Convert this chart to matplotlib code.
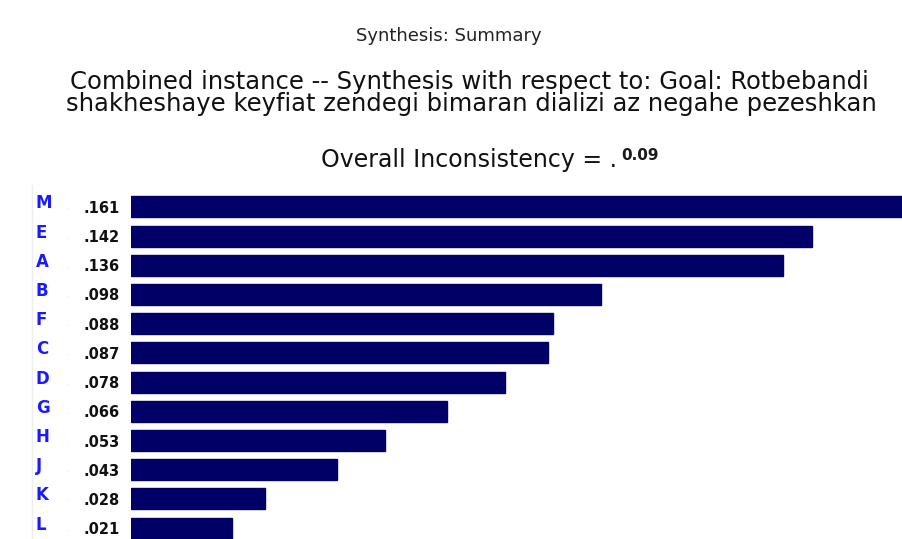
import matplotlib
matplotlib.use("Agg")
import matplotlib.pyplot as plt
from matplotlib.transforms import blended_transform_factory

labels = ["M", "E", "A", "B", "F", "C", "D", "G", "H", "J", "K", "L"]
values = [0.161, 0.142, 0.136, 0.098, 0.088, 0.087, 0.078, 0.066, 0.053, 0.043, 0.028, 0.021]
value_text = [".161", ".142", ".136", ".098", ".088", ".087", ".078", ".066", ".053", ".043", ".028", ".021"]
inconsistency = "0.09"

W, H = 903, 539
fig = plt.figure(figsize=(W / 100, H / 100), dpi=100)
fig.patch.set_facecolor("white")

# axes spans bar area: x 131..903 px, y 192..539 px
ax = fig.add_axes([131 / W, 0, 1 - 131 / W, (H - 192) / H])
ypos = list(range(len(labels)))
ax.barh(ypos, values, height=0.72, color="#000066", edgecolor="#000066")
ax.set_xlim(0, max(values))
ax.set_ylim(11.37, -0.51)
ax.axis("off")

tr = blended_transform_factory(fig.transFigure, ax.transData)
for y, lab, vt in zip(ypos, labels, value_text):
    ax.text(36 / W, y - 0.12, lab, transform=tr, color="#1a1aff", fontsize=12,
            fontweight="bold", ha="left", va="center", clip_on=False)
    ax.text(84 / W, y + 0.05, vt, transform=tr, color="#111111", fontsize=10.5,
            fontweight="bold", ha="left", va="center", clip_on=False)
    ax.text(66 / W, y, ".", transform=tr, color="#dddddd", fontsize=6,
            ha="center", va="center", clip_on=False)

# faint left border line
fig.add_artist(plt.Line2D([32 / W, 32 / W], [0, 1 - 185 / H], color="#eeeeee", lw=1))

fig.text(449 / W, 1 - 36 / H, "Synthesis: Summary", fontsize=13, ha="center",
         va="center", color="#222222")
fig.text(469 / W, 1 - 82 / H, "Combined instance -- Synthesis with respect to: Goal: Rotbebandi",
         fontsize=17.5, ha="center", va="center", color="#111111")
fig.text(471 / W, 1 - 104 / H, "shakheshaye keyfiat zendegi bimaran dializi az negahe pezeshkan",
         fontsize=17.5, ha="center", va="center", color="#111111")
fig.text(617 / W, 1 - 160 / H, "Overall Inconsistency = .", fontsize=17, ha="right",
         va="center", color="#111111")
fig.text(621 / W, 1 - 156 / H, inconsistency, fontsize=11, ha="left", va="center",
         color="#1a1a1a", fontweight="bold")

fig.savefig("out.png", dpi=100, facecolor="white")
